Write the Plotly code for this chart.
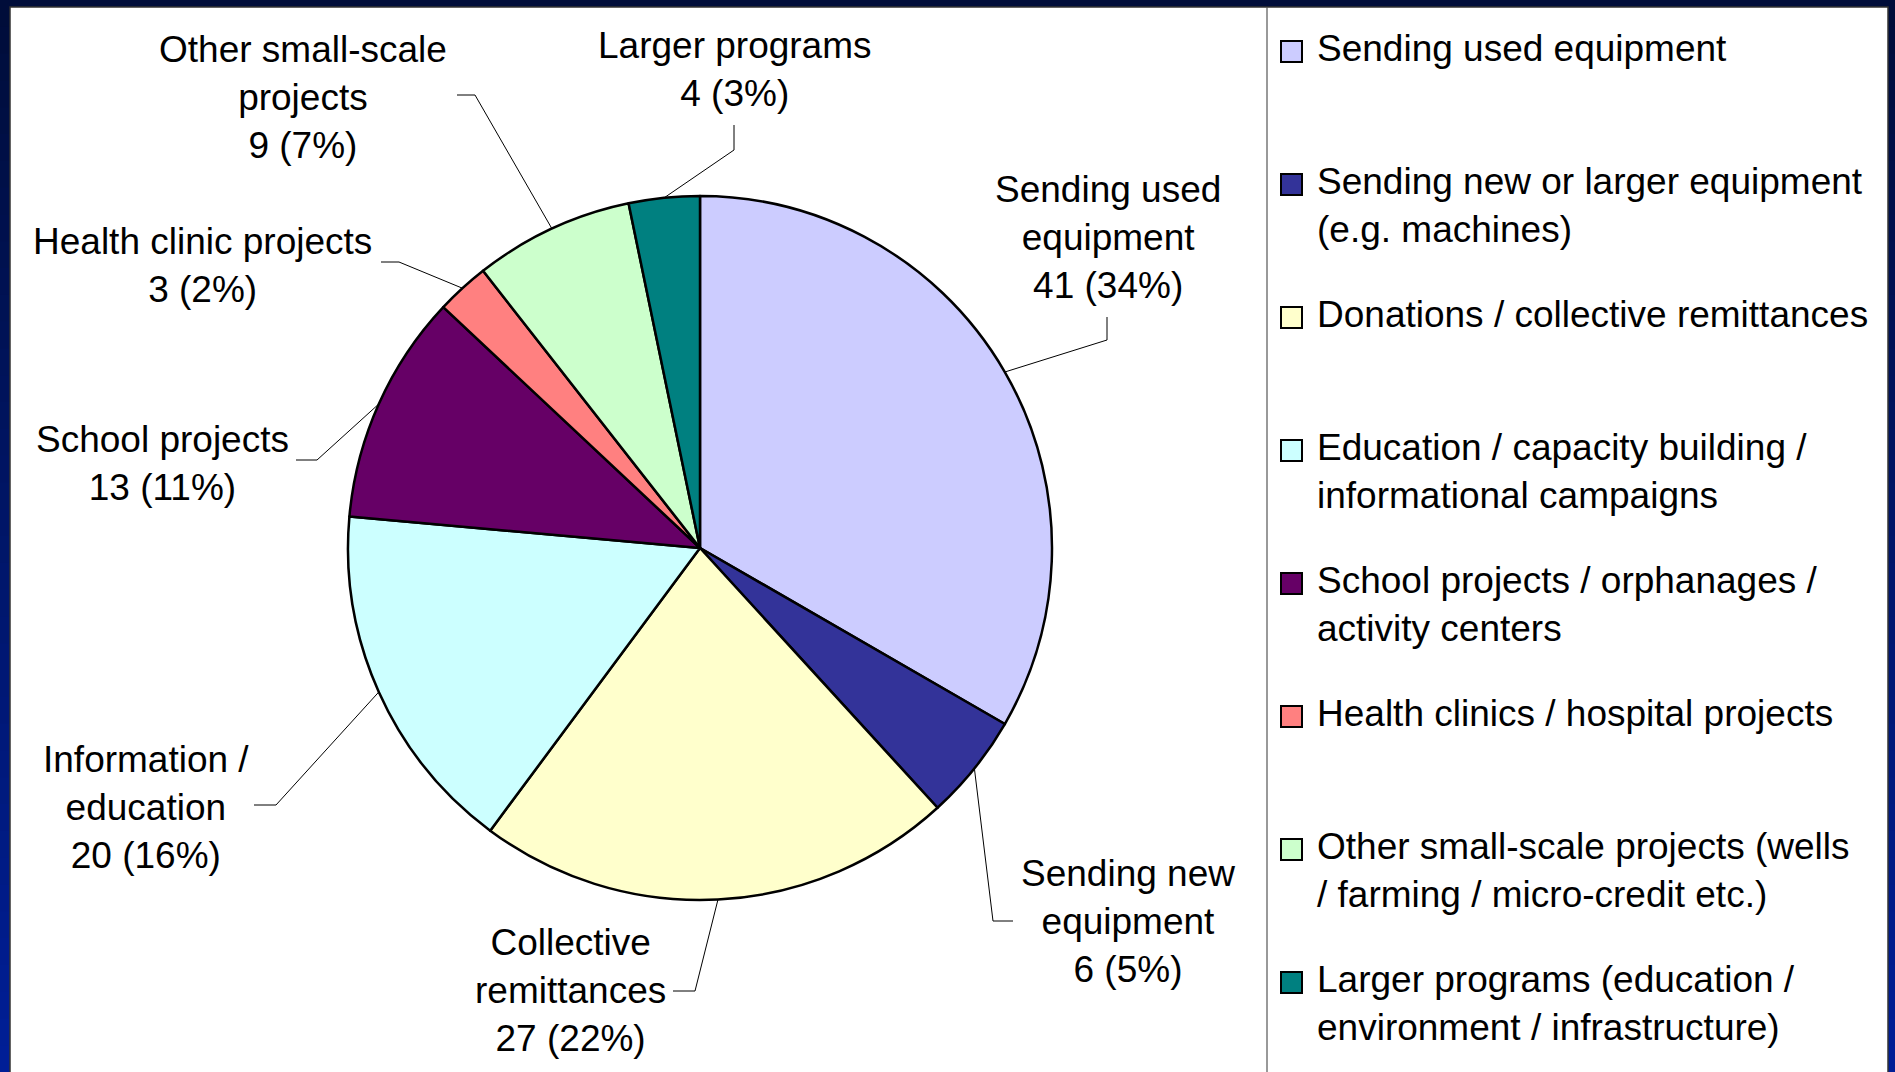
import math
import plotly.graph_objects as go

# ---- data -------------------------------------------------------------
categories = [
    "Sending used equipment",
    "Sending new or larger equipment (e.g. machines)",
    "Donations / collective remittances",
    "Education / capacity building / informational campaigns",
    "School projects / orphanages / activity centers",
    "Health clinics / hospital projects",
    "Other small-scale projects (wells / farming / micro-credit etc.)",
    "Larger programs (education / environment / infrastructure)",
]
counts = [41, 6, 27, 20, 13, 3, 9, 4]
shares = [34, 5, 22, 16, 11, 2, 7, 3]
slice_names = [
    "Sending used<br>equipment",
    "Sending new<br>equipment",
    "Collective<br>remittances",
    "Information /<br>education",
    "School projects",
    "Health clinic projects",
    "Other small-scale<br>projects",
    "Larger programs",
]
legend_lines = [
    ["Sending used equipment"],
    ["Sending new or larger equipment", "(e.g. machines)"],
    ["Donations / collective remittances"],
    ["Education / capacity building /", "informational campaigns"],
    ["School projects / orphanages /", "activity centers"],
    ["Health clinics / hospital projects"],
    ["Other small-scale projects (wells", "/ farming / micro-credit etc.)"],
    ["Larger programs (education /", "environment / infrastructure)"],
]
colors = ["#CCCCFF", "#333399", "#FFFFCC", "#CCFFFF",
          "#660066", "#FF8080", "#CCFFCC", "#008080"]

# ---- layout geometry (pixels) -----------------------------------------
W, H = 1895, 1072
CX, CY, R = 700, 548, 352
FONT = "Liberation Sans, Arial, sans-serif"
FS = 37


def px(x):
    return x / W


def py(y):
    return 1 - y / H


# label centres and leader-line bends (elbow, end) for each slice
label_pos = [(1108, 237), (1128, 921), (570, 990), (146, 807),
             (162, 463), (202, 266), (303, 97), (735, 69)]
leader_bends = [((1107, 340), (1107, 317)), ((993, 921), (1013, 921)),
                ((695, 991), (673, 991)), ((276, 805), (254, 805)),
                ((317, 460), (296, 460)), ((399, 262), (381, 262)),
                ((475, 95), (457, 95)), ((734, 150), (734, 125))]

fig = go.Figure()
fig.add_trace(go.Pie(
    values=counts,
    labels=categories,
    sort=False,
    direction="clockwise",
    rotation=0,
    marker=dict(colors=colors, line=dict(color="black", width=2.5)),
    textinfo="none",
    hoverinfo="label+value+percent",
    showlegend=False,
    domain=dict(x=[px(CX - R), px(CX + R)], y=[py(CY + R), py(CY - R)]),
))

shapes = []
# background: dark blue vertical gradient
steps = 40
top_rgb, bot_rgb = (0, 13, 58), (0, 30, 150)
for i in range(steps):
    t = i / (steps - 1)
    c = tuple(round(a + (b - a) * t) for a, b in zip(top_rgb, bot_rgb))
    shapes.append(dict(type="rect", xref="paper", yref="paper", layer="below",
                       x0=0, x1=1, y0=1 - (i + 1) / steps - 0.002, y1=1 - i / steps,
                       fillcolor=f"rgb{c}", line=dict(width=0)))
# white chart panel and legend separator
shapes.append(dict(type="rect", xref="paper", yref="paper", layer="below",
                   x0=px(10), x1=px(1888), y0=py(1090), y1=py(7),
                   fillcolor="white", line=dict(color="#333333", width=1.5)))
shapes.append(dict(type="line", xref="paper", yref="paper", layer="below",
                   x0=px(1267), x1=px(1267), y0=py(1080), y1=py(7),
                   line=dict(color="#555555", width=1.2)))

annotations = []
total = sum(counts)
cum = 0
for i, v in enumerate(counts):
    mid = (cum + v / 2) / total * 2 * math.pi
    cum += v
    sx = CX + R * math.sin(mid)
    sy = CY - R * math.cos(mid)
    (ex, ey), (fx, fy) = leader_bends[i]
    shapes.append(dict(type="path", xref="paper", yref="paper",
                       path=f"M {px(sx)},{py(sy)} L {px(ex)},{py(ey)} L {px(fx)},{py(fy)}",
                       line=dict(color="black", width=1)))
    lx, ly = label_pos[i]
    annotations.append(dict(
        xref="paper", yref="paper", x=px(lx), y=py(ly),
        xanchor="center", yanchor="middle", align="center", showarrow=False,
        text=f"{slice_names[i]}<br>{v} ({shares[i]}%)",
        font=dict(family=FONT, size=FS, color="black")))

# legend: swatch + text, one entry every 133 px
leg_y0, leg_dy = 51, 133
for i, lines in enumerate(legend_lines):
    yc = leg_y0 + i * leg_dy
    shapes.append(dict(type="rect", xref="paper", yref="paper",
                       x0=px(1281), x1=px(1302), y0=py(yc + 11), y1=py(yc - 10),
                       fillcolor=colors[i], line=dict(color="black", width=2)))
    annotations.append(dict(
        xref="paper", yref="paper", x=px(1316), y=py(yc - FS * 0.65),
        xanchor="left", yanchor="top", align="left", showarrow=False,
        text="<br>".join(lines), borderpad=0,
        font=dict(family=FONT, size=FS, color="black")))

fig.update_layout(
    width=W, height=H,
    margin=dict(l=0, r=0, t=0, b=0),
    paper_bgcolor="rgb(0,20,100)",
    plot_bgcolor="white",
    shapes=shapes,
    annotations=annotations,
)

fig.write_html("out.html")
